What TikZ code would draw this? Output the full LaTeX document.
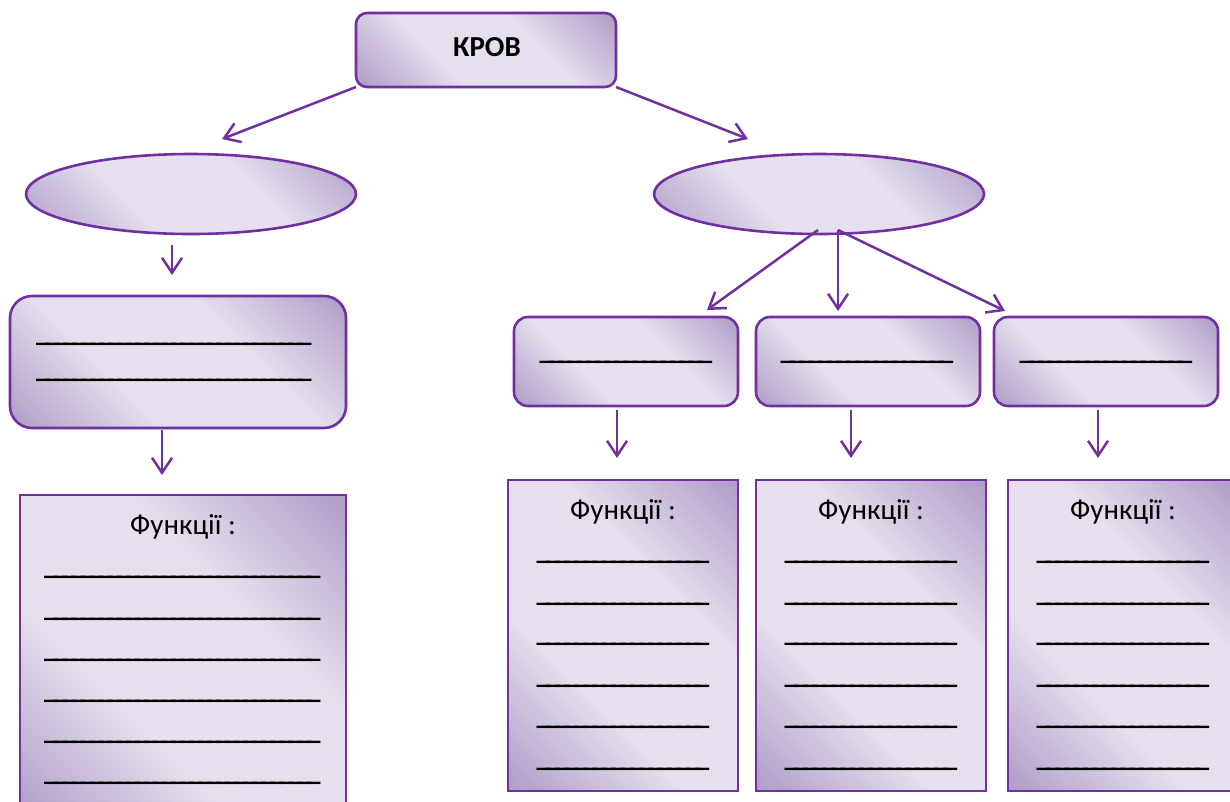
\documentclass[tikz,border=0pt]{standalone}
\usepackage{fontspec}
\setmainfont{Carlito}
\usetikzlibrary{shapes.geometric,arrows.meta,calc}

\definecolor{pborder}{HTML}{7030A0}
\definecolor{pdark}{HTML}{B1A0C9}
\definecolor{plight}{HTML}{E6DFEE}

% diagonal sheen: dark in two opposite corners, light band across the middle
\pgfdeclarehorizontalshading{sheen}{100bp}{%
  color(0bp)=(pdark); color(16bp)=(pdark); color(38bp)=(plight);
  color(62bp)=(plight); color(84bp)=(pdark); color(100bp)=(pdark)}

% a row of underscores filling the given width
\newcommand\blankline[1]{\hbox to #1{\xleaders\hbox to 9pt{\_\hss}\hfil}}

\tikzset{
  panel/.style={draw=pborder, line width=2.6pt, shading=sheen, shading angle=45,
    inner sep=0pt, outer sep=0pt},
  rbox/.style={panel, rectangle},
  oval/.style={panel, ellipse},
  arr/.style={draw=pborder, line width=2.5pt, -{Straight Barb[length=15pt,width=20pt]}},
  txt/.style={font=\fontsize{29}{33}\selectfont, inner sep=0pt, anchor=base},
  blank/.style={font=\bfseries\fontsize{29}{33}\selectfont, inner sep=0pt, anchor=base west},
}

\begin{document}
\begin{tikzpicture}[x=1pt,y=1pt]
\useasboundingbox (0,0) rectangle (1230,-801);
\clip (0,0) rectangle (1230,-801);

% title
\node[rbox, rounded corners=11pt, minimum width=260, minimum height=74] (krov) at (486,-50) {};
\node[txt, font=\bfseries\fontsize{29}{33}\selectfont] (krovlabel) at (487,-56) {КРОВ};

% two ovals
\node[oval, minimum width=330, minimum height=80] (lell) at (191,-194) {};
\node[oval, minimum width=330, minimum height=80] (rell) at (819,-194) {};

% left branch
\node[rbox, rounded corners=22pt, minimum width=336, minimum height=132] (lbox) at (178,-362) {};
\node[blank] (lb1) at (36,-341) {\blankline{270pt}};
\node[blank] (lb2) at (36,-377) {\blankline{270pt}};

\node[rbox, minimum width=326, minimum height=325] (lfun) at (183,-657.5) {};
\node[txt] (lfunt) at (183,-534) {Функції :};
\foreach \y [count=\i] in {578,620,661,702,743,784}
  \node[blank] (lf\i) at (44,-\y+3.4) {\blankline{271pt}};

% right branch: three small boxes
\foreach \c/\n/\x in {626/1/539, 868/2/780, 1106/3/1019}{
  \node[rbox, rounded corners=14pt, minimum width=224, minimum height=89] (rb\n) at (\c,-361.5) {};
  \node[blank] (rbl\n) at (\x,-359) {\blankline{168pt}};
}

% right branch: three function boxes
\foreach \c/\n/\x in {623/1/536, 871/2/784, 1123/3/1036}{
  \node[rbox, minimum width=230, minimum height=311] (rf\n) at (\c,-635.5) {};
  \node[txt] (rft\n) at (\c,-519) {Функції :};
  \foreach \y [count=\i] in {563,605,645,687,728,770}
    \node[blank] (rf\n l\i) at (\x,-\y+3.4) {\blankline{168pt}};
}

% connectors
\draw[arr] (krov.south west) -- ($(lell.north)+(31,15)$);
\draw[arr] (krov.south east) -- ($(rell.north)+(-71,15)$);
\draw[arr] ($(lell.south)+(-19,-11)$) -- ($(lbox.north)+(-6,21)$);
\draw[arr] ($(lbox.south)+(-16,-2)$) -- ($(lfun.north)+(-21,20)$);

\draw[arr] ($(rell.south)+(-1,4)$) -- ($(rb1.north east)+(-31,7)$);
\draw[arr] ($(rell.south)+(19,4)$) -- ($(rb2.north)+(-30,6)$);
\draw[arr] ($(rell.south)+(19,4)$) -- ($(rb3.north west)+(11,6)$);

\draw[arr] ($(rb1.south)+(-9,-4)$) -- ($(rf1.north)+(-6,22)$);
\draw[arr] ($(rb2.south)+(-17,-4)$) -- ($(rf2.north)+(-20,22)$);
\draw[arr] ($(rb3.south)+(-8,-4)$) -- ($(rf3.north)+(-25,22)$);
\end{tikzpicture}
\end{document}
